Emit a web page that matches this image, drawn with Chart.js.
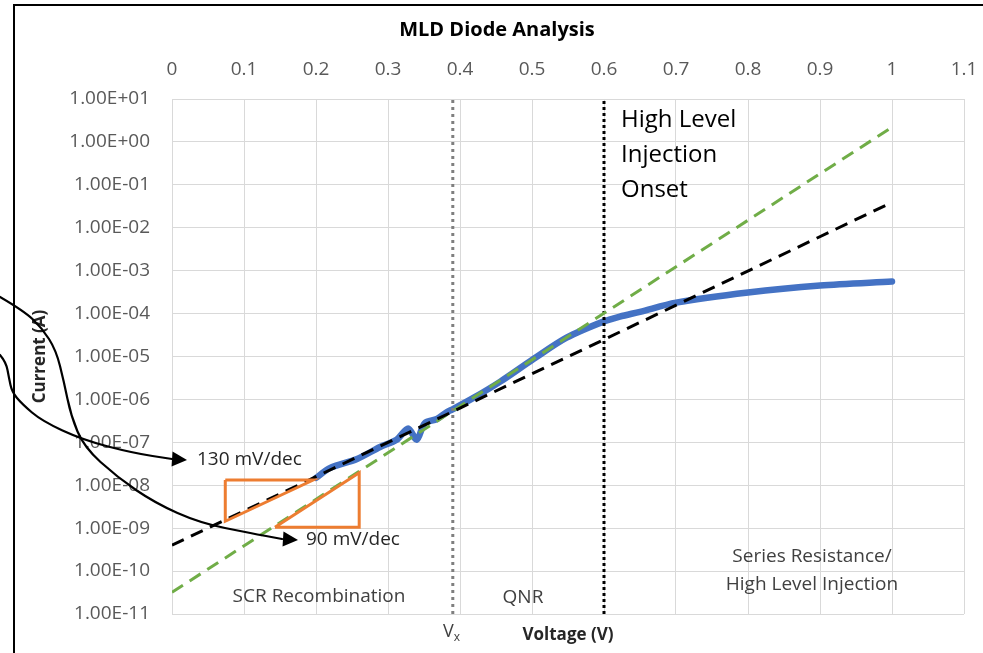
<!DOCTYPE html>
<html>
<head>
<meta charset="utf-8">
<script src="https://cdn.jsdelivr.net/npm/chart.js@4"></script>
<style>
  html, body { margin: 0; padding: 0; background: #fff; }
  #wrap { width: 983px; height: 653px; }
</style>
</head>
<body>
<div id="wrap"><canvas id="diodeChart" width="983" height="653"></canvas></div>
<script>
// measured I-V curve (V, A)
const blueV = [0.200, 0.219, 0.257, 0.289, 0.312, 0.328, 0.340, 0.351, 0.368, 0.382, 0.389, 0.418, 0.456, 0.501, 0.548, 0.599, 0.622, 0.650, 0.700, 0.800, 0.900, 1.000];
const blueI = [1.48e-8, 2.5e-8, 4.1e-8, 7.8e-8, 1.15e-7, 2.1e-7, 1.15e-7, 2.8e-7, 3.5e-7, 5.1e-7, 5.8e-7, 1.07e-6, 2.6e-6, 8.5e-6, 2.75e-5, 6.5e-5, 8.5e-5, 1.1e-4, 1.8e-4, 3.1e-4, 4.5e-4, 5.6e-4];

// ideal fits
const greenV = [0, 1];
const greenI = [3.2e-11, 2.2];
const blackV = [0, 1];
const blackI = [4.0e-10, 3.9e-2];

// slope triangles
const tri1V = [0.074, 0.196, 0.074, 0.074];
const tri1I = [1.32e-8, 1.32e-8, 1.45e-9, 1.32e-8];
const tri2V = [0.143, 0.260, 0.260, 0.143];
const tri2I = [1.05e-9, 1.05e-9, 1.95e-8, 1.05e-9];

// region markers
const vxV = 0.39;
const onsetV = 0.6;
const markI = [1e-11, 1e1];

// axes
const xTicks = [0, 0.1, 0.2, 0.3, 0.4, 0.5, 0.6, 0.7, 0.8, 0.9, 1, 1.1];
const yTicks = [1e1, 1e0, 1e-1, 1e-2, 1e-3, 1e-4, 1e-5, 1e-6, 1e-7, 1e-8, 1e-9, 1e-10, 1e-11];

const pts = (xs, ys) => xs.map((x, i) => ({ x, y: ys[i] }));

function sciLabel(v) {
  const e = Math.round(Math.log10(v));
  return "1.00E" + (e < 0 ? "-" : "+") + String(Math.abs(e)).padStart(2, "0");
}

Chart.defaults.font.family = '"Open Sans", "Liberation Sans", sans-serif';

// smooth hand-drawn arrow through points
function drawArrow(ctx, p, tip) {
  ctx.save();
  ctx.strokeStyle = "#000";
  ctx.lineWidth = 2.2;
  ctx.lineJoin = "round";
  ctx.lineCap = "round";
  ctx.beginPath();
  ctx.moveTo(p[0][0], p[0][1]);
  for (let i = 1; i < p.length - 1; i++) {
    const mx = (p[i][0] + p[i + 1][0]) / 2;
    const my = (p[i][1] + p[i + 1][1]) / 2;
    ctx.quadraticCurveTo(p[i][0], p[i][1], mx, my);
  }
  const last = p[p.length - 1];
  ctx.lineTo(last[0], last[1]);
  ctx.stroke();
  const ang = Math.atan2(tip[1] - last[1], tip[0] - last[0]);
  ctx.fillStyle = "#000";
  ctx.beginPath();
  ctx.moveTo(tip[0], tip[1]);
  ctx.lineTo(tip[0] - 15 * Math.cos(ang) + 7.5 * Math.sin(ang), tip[1] - 15 * Math.sin(ang) - 7.5 * Math.cos(ang));
  ctx.lineTo(tip[0] - 15 * Math.cos(ang) - 7.5 * Math.sin(ang), tip[1] - 15 * Math.sin(ang) + 7.5 * Math.cos(ang));
  ctx.closePath();
  ctx.fill();
  ctx.restore();
}

const decorPlugin = {
  id: "decor",
  beforeDraw(chart) {
    const ctx = chart.ctx;
    ctx.save();
    ctx.fillStyle = "#fff";
    ctx.fillRect(0, 0, chart.width, chart.height);
    ctx.strokeStyle = "#000";
    ctx.lineWidth = 2;
    ctx.beginPath();
    ctx.moveTo(14, chart.height);
    ctx.lineTo(14, 5);
    ctx.lineTo(chart.width, 5);
    ctx.stroke();
    ctx.restore();
  },
  afterDraw(chart) {
    const ctx = chart.ctx;
    const xs = chart.scales.x;
    const area = chart.chartArea;
    ctx.save();
    ctx.textBaseline = "middle";

    // region labels
    ctx.font = '19px "Open Sans"';
    ctx.fillStyle = "#404040";
    ctx.textAlign = "center";
    ctx.fillText("SCR Recombination", 319, 597);
    ctx.fillText("QNR", 523, 598);
    ctx.fillText("Series Resistance/", 812, 557);
    ctx.fillText("High Level Injection", 812, 585);

    ctx.fillStyle = "#262626";
    ctx.textAlign = "left";
    ctx.fillText("130 mV/dec", 197, 460);
    ctx.fillText("90 mV/dec", 306, 540);

    ctx.font = '24px "Open Sans"';
    ctx.fillStyle = "#000";
    ctx.fillText("High Level", 621, 120);
    ctx.fillText("Injection", 621, 155);
    ctx.fillText("Onset", 621, 190);

    // V_x under the marker line
    const vxPx = xs.getPixelForValue(vxV);
    ctx.fillStyle = "#404040";
    ctx.font = '18px "Open Sans"';
    ctx.textAlign = "right";
    ctx.fillText("V", vxPx + 1, area.bottom + 18);
    ctx.font = '12px "Open Sans"';
    ctx.textAlign = "left";
    ctx.fillText("x", vxPx + 1, area.bottom + 24);

    // callout arrows
    drawArrow(ctx, [[0, 355], [6, 362], [9, 378], [12, 392], [22, 404], [42, 421], [83, 440], [133, 453], [172, 459]], [187, 460]);
    drawArrow(ctx, [[0, 297], [24, 311], [42, 328], [56, 350], [64, 382], [71, 416], [84, 447], [117, 477], [155, 503], [200, 523], [250, 533], [282, 539]], [298, 540]);
    ctx.restore();
  }
};

new Chart(document.getElementById("diodeChart"), {
  type: "scatter",
  data: {
    datasets: [
      {
        label: "130 mV/dec triangle",
        data: pts(tri1V, tri1I),
        showLine: true, borderColor: "#ED7D31", borderWidth: 3, pointRadius: 0, order: 1
      },
      {
        label: "90 mV/dec triangle",
        data: pts(tri2V, tri2I),
        showLine: true, borderColor: "#ED7D31", borderWidth: 3, pointRadius: 0, order: 1
      },
      {
        label: "130 mV/dec fit",
        data: pts(blackV, blackI),
        showLine: true, borderColor: "#000", borderWidth: 3, borderDash: [13, 8], pointRadius: 0, order: 2
      },
      {
        label: "90 mV/dec fit",
        data: pts(greenV, greenI),
        showLine: true, borderColor: "#70AD47", borderWidth: 3, borderDash: [13, 8], pointRadius: 0, order: 3
      },
      {
        label: "Onset",
        data: pts([onsetV, onsetV], markI),
        showLine: true, borderColor: "#000", borderWidth: 3, borderDash: [3, 3], pointRadius: 0, order: 4
      },
      {
        label: "Vx",
        data: pts([vxV, vxV], markI),
        showLine: true, borderColor: "#7F7F7F", borderWidth: 3, borderDash: [3, 4], pointRadius: 0, order: 4
      },
      {
        label: "Measured",
        data: pts(blueV, blueI),
        showLine: true, borderColor: "#4472C4", borderWidth: 6.5, tension: 0.3,
        borderCapStyle: "round", borderJoinStyle: "round", pointRadius: 0, order: 5
      }
    ]
  },
  plugins: [decorPlugin],
  options: {
    responsive: false,
    animation: false,
    layout: { padding: { left: 30, right: 19, top: 0, bottom: 0 } },
    plugins: {
      legend: { display: false },
      tooltip: { enabled: false },
      title: {
        display: true,
        text: "MLD Diode Analysis",
        color: "#000",
        font: { size: 20, weight: "bold" },
        padding: { top: 18, bottom: 0 }
      }
    },
    scales: {
      x: {
        type: "linear",
        position: "top",
        min: 0,
        max: 1.1,
        afterBuildTicks: (scale) => { scale.ticks = xTicks.map(v => ({ value: v })); },
        afterFit: (scale) => { scale.height = 57; scale.paddingLeft = 0; scale.paddingRight = 0; },
        ticks: { color: "#595959", font: { size: 19 }, padding: 18, callback: (v) => String(Math.round(v * 10) / 10) },
        grid: { color: "#D9D9D9", lineWidth: 1, drawTicks: false },
        border: { display: false }
      },
      xb: {
        type: "linear",
        position: "bottom",
        min: 0,
        max: 1.1,
        afterFit: (scale) => { scale.height = 39; scale.paddingLeft = 0; scale.paddingRight = 0; },
        ticks: { display: false },
        grid: { display: false, drawTicks: false },
        border: { display: false },
        title: { display: true, text: "Voltage (V)", color: "#262626", font: { size: 17, weight: "bold" }, padding: { top: 0, bottom: 8 } }
      },
      y: {
        type: "logarithmic",
        min: 1e-11,
        max: 1e1,
        afterBuildTicks: (scale) => { scale.ticks = yTicks.map(v => ({ value: v })); },
        afterFit: (scale) => { scale.width = 142; scale.paddingTop = 0; scale.paddingBottom = 0; },
        ticks: { color: "#595959", font: { size: 19 }, padding: 22, callback: (v) => sciLabel(v) },
        grid: { color: "#D9D9D9", lineWidth: 1, drawTicks: false },
        border: { display: false },
        title: { display: true, text: "Current (A)", color: "#262626", font: { size: 17, weight: "bold" }, padding: 0 }
      }
    }
  }
});
</script>
</body>
</html>
